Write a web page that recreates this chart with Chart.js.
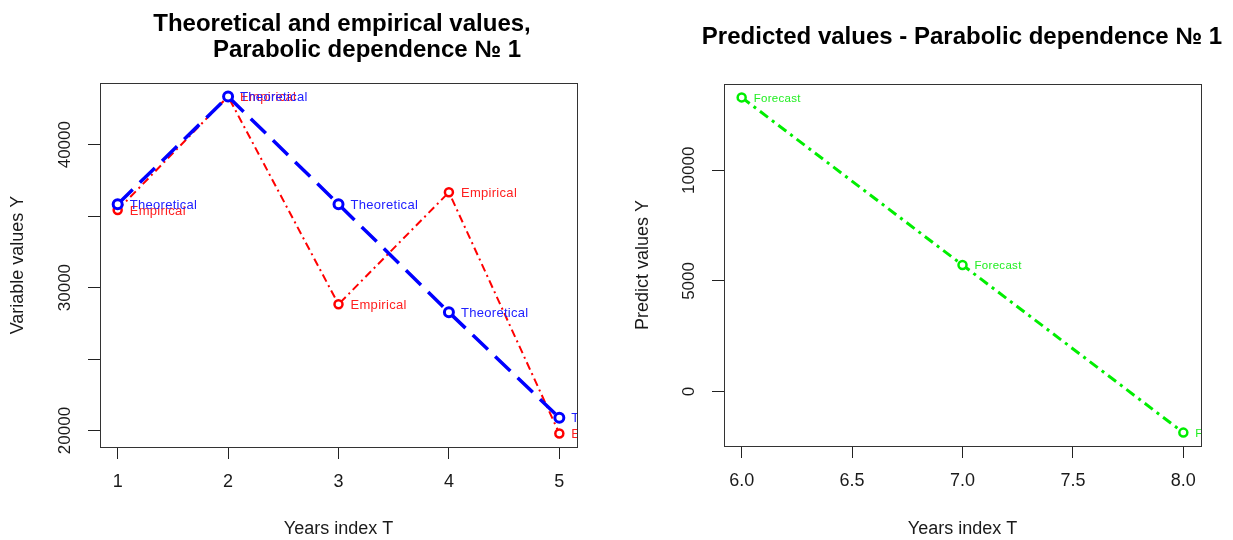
<!DOCTYPE html>
<html><head><meta charset="utf-8">
<script src="https://cdn.jsdelivr.net/npm/chart.js@4/dist/chart.umd.min.js"></script>
<style>
html,body{margin:0;padding:0;background:#fff;}
#wrap{position:relative;width:1233px;height:540px;overflow:hidden;}
#c1{position:absolute;left:0;top:0;}
#c2{position:absolute;left:616px;top:0;}
</style></head><body>
<div id="wrap"><canvas id="c1" width="616" height="540"></canvas><canvas id="c2" width="617" height="540"></canvas></div>
<script>
// ---- data ----
const years = [1, 2, 3, 4, 5];
const empirical = [35430, 43370, 28830, 36670, 19790];
const theoretical = [35830, 43370, 35830, 28270, 20900];
const xTicksLeft = [1, 2, 3, 4, 5];
const yTicksLeft = [20000, 25000, 30000, 35000, 40000];
const yLabelsLeft = [20000, 30000, 40000];

const forecastYears = [6, 7, 8];
const forecast = [13290, 5720, -1850];
const xTicksRight = [6, 6.5, 7, 7.5, 8];
const yTicksRight = [0, 5000, 10000];
const yLabelsRight = [0, 5000, 10000];

const titleLeft1 = 'Theoretical and empirical values,';
const titleLeft2 = 'Parabolic dependence № 1';
const titleRight = 'Predicted values - Parabolic dependence № 1';
const xTitle = 'Years index T';
const yTitleLeft = 'Variable values Y';
const yTitleRight = 'Predict values Y';

// ---- helpers ----
const FONT = '"Liberation Sans", Arial, Helvetica, sans-serif';
const TXT = '#1a1a1a';
function rRange(arr) {
  const mn = Math.min(...arr), mx = Math.max(...arr);
  const pad = (mx - mn) * 0.04;
  return [mn - pad, mx + pad];
}
function xyData(xs, ys) { return xs.map((x, i) => ({x: x, y: ys[i]})); }

function decorPlugin(cfg) {
  return {
    id: 'rdecor',
    afterDatasetsDraw(chart) {
      const ctx = chart.ctx, a = chart.chartArea;
      const xs = chart.scales.x, ys = chart.scales.y;
      // point labels (clipped to the plot region)
      ctx.save();
      ctx.beginPath();
      ctx.rect(a.left, a.top, a.right - a.left, a.bottom - a.top);
      ctx.clip();
      cfg.pointLabels.forEach(pl => {
        ctx.font = pl.size + 'px ' + FONT;
        try { ctx.letterSpacing = pl.spacing + 'px'; } catch (e) {}
        ctx.fillStyle = pl.color;
        ctx.textAlign = 'left';
        ctx.textBaseline = 'middle';
        pl.xs.forEach((xv, i) => {
          const px = xs.getPixelForValue(xv), py = ys.getPixelForValue(pl.ys[i]);
          ctx.fillText(pl.text, px + 12, py + 1);
        });
      });
      ctx.restore();
    },
    afterDraw(chart) {
      const ctx = chart.ctx, a = chart.chartArea;
      const ys = chart.scales.y;
      ctx.save();
      // box
      ctx.strokeStyle = '#333';
      ctx.lineWidth = 1;
      ctx.strokeRect(Math.round(a.left) + 0.5, Math.round(a.top) + 0.5,
                     Math.round(a.right - a.left), Math.round(a.bottom - a.top));
      // titles
      ctx.fillStyle = '#000';
      ctx.textAlign = 'center';
      ctx.textBaseline = 'middle';
      ctx.font = 'bold 24px ' + FONT;
      cfg.titles.forEach(t => ctx.fillText(t.text, t.x, t.y));
      // axis titles
      ctx.fillStyle = TXT;
      ctx.font = '18px ' + FONT;
      ctx.fillText(xTitle, (a.left + a.right) / 2, 529);
      ctx.save();
      ctx.translate(cfg.yTitleX, (a.top + a.bottom) / 2);
      ctx.rotate(-Math.PI / 2);
      ctx.fillText(cfg.yTitle, 0, 0);
      ctx.restore();
      // rotated y tick labels
      ctx.font = '17px ' + FONT;
      cfg.yLabels.forEach(v => {
        ctx.save();
        ctx.translate(a.left - 35, ys.getPixelForValue(v));
        ctx.rotate(-Math.PI / 2);
        ctx.fillText(String(v), 0, 0);
        ctx.restore();
      });
      ctx.restore();
    }
  };
}

function axisX(range, ticks, fmt, h) {
  return {
    type: 'linear', position: 'bottom', min: range[0], max: range[1],
    afterBuildTicks: s => { s.ticks = ticks.map(v => ({value: v})); },
    afterFit: s => { s.height = h; },
    grid: {display: true, drawOnChartArea: false, drawTicks: true, tickLength: 12, color: '#222', lineWidth: 1},
    border: {display: false},
    ticks: {font: {size: 18, family: FONT}, color: TXT, padding: 12, maxRotation: 0, autoSkip: false,
            callback: v => fmt(v)}
  };
}
function axisY(range, ticks, w) {
  return {
    type: 'linear', position: 'left', min: range[0], max: range[1],
    afterBuildTicks: s => { s.ticks = ticks.map(v => ({value: v})); },
    afterFit: s => { s.width = w; },
    grid: {display: true, drawOnChartArea: false, drawTicks: true, tickLength: 12, color: '#222', lineWidth: 1},
    border: {display: false},
    ticks: {font: {size: 17, family: FONT}, color: 'rgba(0,0,0,0)', padding: 4, autoSkip: false,
            callback: v => String(v)}
  };
}

const baseOpts = {
  responsive: false, devicePixelRatio: 1, animation: false, events: [],
  plugins: {legend: {display: false}, tooltip: {enabled: false}, title: {display: false}}
};

// ---- left chart ----
new Chart(document.getElementById('c1'), {
  type: 'line',
  data: {
    datasets: [
      {label: 'Theoretical', data: xyData(years, theoretical), order: 0,
       borderColor: '#0000ff', borderWidth: 3.5, borderDash: [21, 10],
       pointRadius: 4.5, pointBorderWidth: 3, pointBorderColor: '#0000ff', pointBackgroundColor: '#fff',
       tension: 0, fill: false},
      {label: 'Empirical', data: xyData(years, empirical), order: 1,
       borderColor: '#ff0000', borderWidth: 2, borderDash: [8, 4, 2, 4],
       pointRadius: 4, pointBorderWidth: 2.5, pointBorderColor: '#ff0000', pointBackgroundColor: '#fff',
       tension: 0, fill: false}
    ]
  },
  options: Object.assign({}, baseOpts, {
    layout: {padding: {left: 0, right: 39, top: 83, bottom: 0}},
    scales: {
      x: axisX(rRange(years), xTicksLeft, v => String(v), 93),
      y: axisY(rRange(empirical.concat(theoretical)), yTicksLeft, 100)
    }
  }),
  plugins: [decorPlugin({
    titles: [{text: titleLeft1, x: 342, y: 24}, {text: titleLeft2, x: 367, y: 50}],
    yTitle: yTitleLeft, yTitleX: 18, yLabels: yLabelsLeft,
    pointLabels: [
      {text: 'Empirical', xs: years, ys: empirical, color: '#ff2020', size: 13, spacing: 0.3},
      {text: 'Theoretical', xs: years, ys: theoretical, color: '#2020ff', size: 13, spacing: 0.3}
    ]
  })]
});

// ---- right chart ----
new Chart(document.getElementById('c2'), {
  type: 'line',
  data: {
    datasets: [
      {label: 'Forecast', data: xyData(forecastYears, forecast),
       borderColor: '#00ee00', borderWidth: 3, borderDash: [10, 5, 3, 5],
       pointRadius: 4, pointBorderWidth: 2.5, pointBorderColor: '#00ee00', pointBackgroundColor: '#fff',
       tension: 0, fill: false}
    ]
  },
  options: Object.assign({}, baseOpts, {
    layout: {padding: {left: 0, right: 32, top: 84, bottom: 0}},
    scales: {
      x: axisX(rRange(forecastYears), xTicksRight, v => Number(v).toFixed(1), 94),
      y: axisY(rRange(forecast), yTicksRight, 108)
    }
  }),
  plugins: [decorPlugin({
    titles: [{text: titleRight, x: 346, y: 37}],
    yTitle: yTitleRight, yTitleX: 27, yLabels: yLabelsRight,
    pointLabels: [
      {text: 'Forecast', xs: forecastYears, ys: forecast, color: '#22ee22', size: 11.5, spacing: 0.3}
    ]
  })]
});
</script>
</body></html>
